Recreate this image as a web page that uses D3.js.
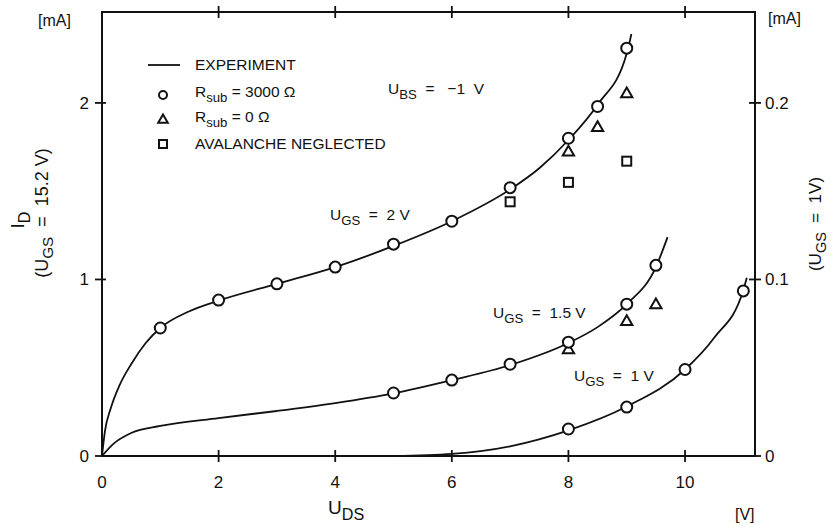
<!DOCTYPE html>
<html>
<head>
<meta charset="utf-8">
<script src="https://cdn.jsdelivr.net/npm/d3@7"></script>
<style>
  body { margin: 0; background: #fff; }
  svg text { font-family: "Liberation Sans", Arial, sans-serif; fill: #111; white-space: pre; }
</style>
</head>
<body>
<div id="chart"></div>
<script>
// x ticks (U_DS, V)
const xTicks = [0, 2, 4, 6, 8, 10];
const yLeftTicks = [0, 1, 2];
const yRightTicks = [0, 0.1, 0.2];

// experiment curves (left scale, mA)
const curve2V = [[0,0],[0.05,0.14],[0.15,0.27],[0.3,0.4],[0.5,0.52],[0.75,0.64],[1,0.725],[1.5,0.82],[2,0.88],[3,0.975],[4,1.07],[5,1.19],[6,1.33],[7,1.51],[7.5,1.63],[8,1.79],[8.5,1.99],[9,2.28],[9.08,2.39]];
const curve15V = [[0,0],[0.2,0.07],[0.5,0.13],[1,0.17],[2,0.215],[3,0.255],[4,0.30],[5,0.355],[6,0.43],[7,0.515],[8,0.64],[8.5,0.73],[9,0.86],[9.5,1.07],[9.7,1.24]];
// U_GS = 1 V uses the right scale (mA)
const curve1V = [[5,0],[6,0.0012],[7,0.0055],[8,0.0145],[9,0.028],[10,0.049],[10.5,0.067],[11,0.094],[11.06,0.101]];

// R_sub = 3000 ohm (circles)
const circles2V = [[1,0.725],[2,0.883],[3,0.975],[4,1.07],[5,1.2],[6,1.33],[7,1.52],[8,1.80],[8.5,1.98],[9,2.31]];
const circles15V = [[5,0.357],[6,0.43],[7,0.52],[8,0.645],[9,0.86],[9.5,1.08]];
const circles1V = [[8,0.0153],[9,0.0277],[10,0.049],[11,0.0935]];
// R_sub = 0 ohm (triangles)
const triangles2V = [[8,1.72],[8.5,1.86],[9,2.05]];
const triangles15V = [[8,0.6],[9,0.76],[9.5,0.855]];
// avalanche neglected (squares)
const squares2V = [[7,1.44],[8,1.55],[9,1.67]];

const W = 834, H = 530;
const svg = d3.select('#chart').append('svg')
    .attr('width', W)
    .attr('height', H);

const x = d3.scaleLinear().domain([0, 11.2]).range([102, 755]);
const y = d3.scaleLinear().domain([0, 2.515]).range([456, 12]);
const yR = d3.scaleLinear().domain([0, 0.2515]).range([456, 12]);

// frame
svg.append('rect')
    .attr('x', x(0)).attr('y', y(2.515))
    .attr('width', x(11.2) - x(0)).attr('height', y(0) - y(2.515))
    .attr('fill', 'none').attr('stroke', '#111').attr('stroke-width', 2);

const tickG = svg.append('g').attr('stroke', '#111').attr('stroke-width', 1.8);
// bottom and top ticks
xTicks.filter(d => d > 0).forEach(d => {
    tickG.append('line').attr('x1', x(d)).attr('x2', x(d)).attr('y1', y(0) - 6).attr('y2', y(0) + 6);
    tickG.append('line').attr('x1', x(d)).attr('x2', x(d)).attr('y1', y(2.515) - 6).attr('y2', y(2.515) + 6);
});
yLeftTicks.forEach(d => {
    tickG.append('line').attr('x1', x(0) - 7).attr('x2', x(0) + (d === 0 ? 0 : 4)).attr('y1', y(d)).attr('y2', y(d));
});
yRightTicks.forEach(d => {
    tickG.append('line').attr('x1', x(11.2) - (d === 0 ? 0 : 6)).attr('x2', x(11.2) + 6).attr('y1', yR(d)).attr('y2', yR(d));
});

// tick labels
svg.selectAll('.xl').data(xTicks).enter().append('text')
    .attr('x', d => x(d)).attr('y', y(0) + 32)
    .attr('text-anchor', 'middle').attr('font-size', 17)
    .text(d => d);
svg.selectAll('.yl').data(yLeftTicks).enter().append('text')
    .attr('x', x(0) - 13).attr('y', d => y(d) + 6)
    .attr('text-anchor', 'end').attr('font-size', 17)
    .text(d => d);
svg.selectAll('.yr').data(yRightTicks).enter().append('text')
    .attr('x', x(11.2) + 10).attr('y', d => yR(d) + 6)
    .attr('text-anchor', 'start').attr('font-size', 17)
    .text(d => d);

// units
svg.append('text').attr('x', 38).attr('y', 26).attr('font-size', 16).text('[mA]');
svg.append('text').attr('x', 768).attr('y', 24).attr('font-size', 16).text('[mA]');
svg.append('text').attr('x', 735).attr('y', 520).attr('font-size', 16).text('[V]');

// axis titles (with subscripts)
function sub(sel, main, subTxt, rest, size) {
    sel.append('tspan').text(main);
    sel.append('tspan').attr('font-size', size * 0.85).attr('dy', size * 0.3).text(subTxt);
    if (rest) sel.append('tspan').attr('dy', -size * 0.3).text(rest);
}
const xt = svg.append('text').attr('x', 328).attr('y', 514).attr('font-size', 19);
sub(xt, 'U', 'DS', null, 19);

const ylab1 = svg.append('text').attr('transform', 'translate(24,220) rotate(-90)')
    .attr('text-anchor', 'middle').attr('font-size', 19);
sub(ylab1, 'I', 'D', null, 19);
const ylab2 = svg.append('text').attr('transform', 'translate(48,213) rotate(-90)')
    .attr('text-anchor', 'middle').attr('font-size', 18);
sub(ylab2, '(U', 'GS', '  =  15.2 V)', 18);
const yrlab = svg.append('text').attr('transform', 'translate(821,224) rotate(-90)')
    .attr('text-anchor', 'middle').attr('font-size', 17);
sub(yrlab, '(U', 'GS', '  =  1V)', 17);

// curves
const line = d3.line().curve(d3.curveMonotoneX).x(d => x(d[0]));
const curveG = svg.append('g').attr('fill', 'none').attr('stroke', '#111').attr('stroke-width', 1.8);
curveG.append('path').attr('d', line.y(d => y(d[1]))(curve2V));
curveG.append('path').attr('d', line.y(d => y(d[1]))(curve15V));
curveG.append('path').attr('d', line.y(d => yR(d[1]))(curve1V));

// markers
const markG = svg.append('g').attr('fill', '#fff').attr('stroke', '#111').attr('stroke-width', 2);
function circ(data, ys) {
    data.forEach(d => markG.append('circle').attr('cx', x(d[0])).attr('cy', ys(d[1])).attr('r', 5.5));
}
function tri(data, ys) {
    data.forEach(d => markG.append('path')
        .attr('d', d3.symbol(d3.symbolTriangle, 55)())
        .attr('transform', `translate(${x(d[0])},${ys(d[1])})`));
}
function sq(data, ys) {
    data.forEach(d => markG.append('rect')
        .attr('x', x(d[0]) - 4.5).attr('y', ys(d[1]) - 4.5)
        .attr('width', 9).attr('height', 9));
}
tri(triangles2V, y);
tri(triangles15V, y);
sq(squares2V, y);
circ(circles2V, y);
circ(circles15V, y);
circ(circles1V, yR);

// legend
const lg = svg.append('g');
lg.append('line').attr('x1', 148).attr('x2', 180).attr('y1', 65).attr('y2', 65)
    .attr('stroke', '#111').attr('stroke-width', 1.8);
lg.append('circle').attr('cx', 163).attr('cy', 95).attr('r', 4)
    .attr('fill', '#fff').attr('stroke', '#111').attr('stroke-width', 2);
lg.append('path').attr('d', d3.symbol(d3.symbolTriangle, 40)())
    .attr('transform', 'translate(163,120)')
    .attr('fill', '#fff').attr('stroke', '#111').attr('stroke-width', 2);
lg.append('rect').attr('x', 159).attr('y', 140).attr('width', 8).attr('height', 8)
    .attr('fill', '#fff').attr('stroke', '#111').attr('stroke-width', 2);
lg.append('text').attr('x', 195).attr('y', 70).attr('font-size', 15.5).text('EXPERIMENT');
const l2 = lg.append('text').attr('x', 195).attr('y', 97).attr('font-size', 15.5);
sub(l2, 'R', 'sub', ' = 3000 Ω', 15.5);
const l3 = lg.append('text').attr('x', 195).attr('y', 122).attr('font-size', 15.5);
sub(l3, 'R', 'sub', ' = 0 Ω', 15.5);
lg.append('text').attr('x', 195).attr('y', 149).attr('font-size', 15.5).text('AVALANCHE NEGLECTED');

// annotations
const a1 = svg.append('text').attr('x', 388).attr('y', 94).attr('font-size', 15.5);
sub(a1, 'U', 'BS', '  =   −1  V', 15.5);
const a2 = svg.append('text').attr('x', 330).attr('y', 220).attr('font-size', 15.5);
sub(a2, 'U', 'GS', '  =  2 V', 15.5);
const a3 = svg.append('text').attr('x', 493).attr('y', 318).attr('font-size', 15.5);
sub(a3, 'U', 'GS', '  =  1.5 V', 15.5);
const a4 = svg.append('text').attr('x', 574).attr('y', 381).attr('font-size', 15.5);
sub(a4, 'U', 'GS', '  =  1 V', 15.5);
</script>
</body>
</html>
